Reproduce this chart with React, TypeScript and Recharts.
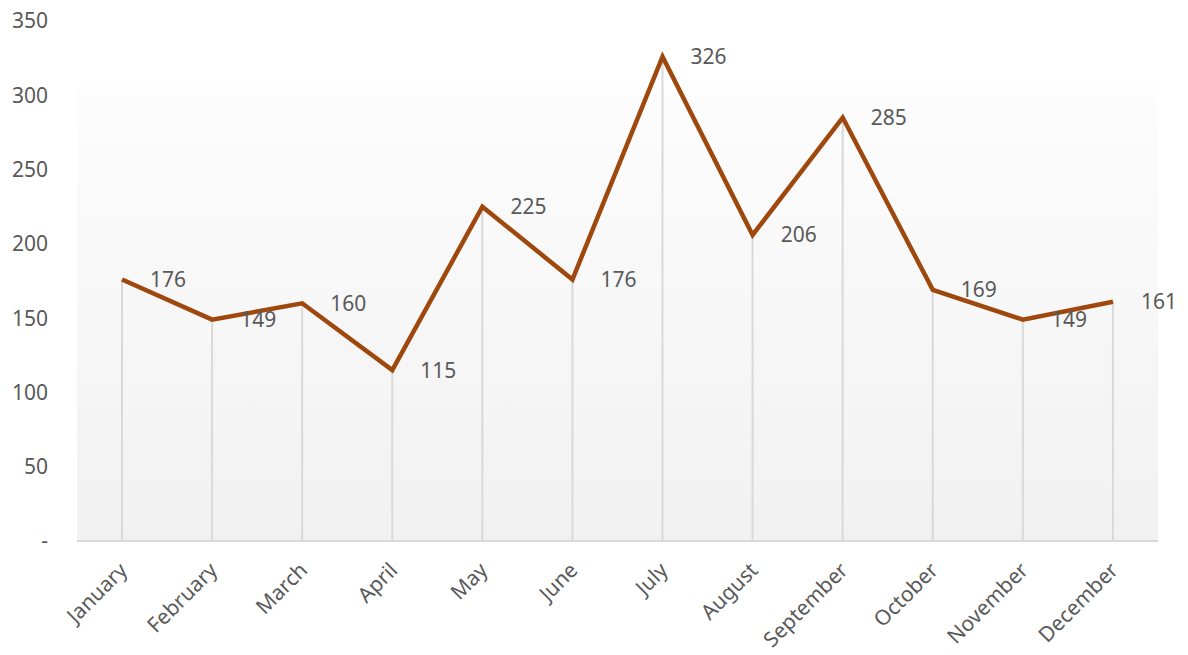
import { Bar, CartesianGrid, ComposedChart, LabelList, Line, XAxis, YAxis } from "recharts";

const MONTHS = [
  "January",
  "February",
  "March",
  "April",
  "May",
  "June",
  "July",
  "August",
  "September",
  "October",
  "November",
  "December",
];
const SALES = [176, 149, 160, 115, 225, 176, 326, 206, 285, 169, 149, 161];
const Y_TICKS = [0, 50, 100, 150, 200, 250, 300, 350];

const TEXT_COLOR = "#595959";
const LINE_COLOR = "#9E480E";
const FONT = "'Noto Sans', 'Open Sans', sans-serif";

const data = MONTHS.map((month, i) => ({ month, value: SALES[i] }));

function MonthTick({ x, y, payload }: any) {
  const ax = x - 4;
  const ay = y + 12;
  return (
    <text
      x={ax}
      y={ay}
      dy="0.71em"
      textAnchor="end"
      fill={TEXT_COLOR}
      fontSize={21}
      fontFamily={FONT}
      transform={`rotate(-45, ${ax}, ${ay})`}
    >
      {payload.value}
    </text>
  );
}

export default function App() {
  return (
    <div style={{ position: "absolute", left: 0, top: 0, width: 1188, height: 655, background: "#fff" }}>
      <ComposedChart
        width={1188}
        height={655}
        data={data}
        margin={{ top: 21, right: 30, left: 0, bottom: 0 }}
      >
        <defs>
          <linearGradient id="plotBg" x1="0" y1="0" x2="0" y2="1">
            <stop offset="0" stopColor="#ffffff" />
            <stop offset="0.125" stopColor="#ffffff" />
            <stop offset="0.125" stopColor="#fdfdfd" />
            <stop offset="1" stopColor="#f1f1f1" />
          </linearGradient>
        </defs>
        <CartesianGrid horizontal={false} vertical={false} fill="url(#plotBg)" />
        <XAxis
          dataKey="month"
          scale="band"
          interval={0}
          height={114}
          tickLine={false}
          axisLine={{ stroke: "#d9d9d9", strokeWidth: 2 }}
          tick={<MonthTick />}
        />
        <YAxis
          width={77}
          domain={[0, 350]}
          ticks={Y_TICKS}
          axisLine={false}
          tickLine={false}
          tickSize={0}
          tickMargin={29}
          tickFormatter={(v: number) => (v === 0 ? "-" : String(v))}
          tick={{ fill: TEXT_COLOR, fontSize: 21, fontFamily: FONT }}
        />
        <Bar dataKey="value" barSize={2} fill="#d9d9d9" isAnimationActive={false} />
        <Line
          type="linear"
          dataKey="value"
          stroke={LINE_COLOR}
          strokeWidth={4.5}
          dot={false}
          activeDot={false}
          isAnimationActive={false}
        >
          <LabelList
            dataKey="value"
            position="right"
            offset={28}
            fill={TEXT_COLOR}
            fontSize={21}
            fontFamily={FONT}
          />
        </Line>
      </ComposedChart>
    </div>
  );
}
